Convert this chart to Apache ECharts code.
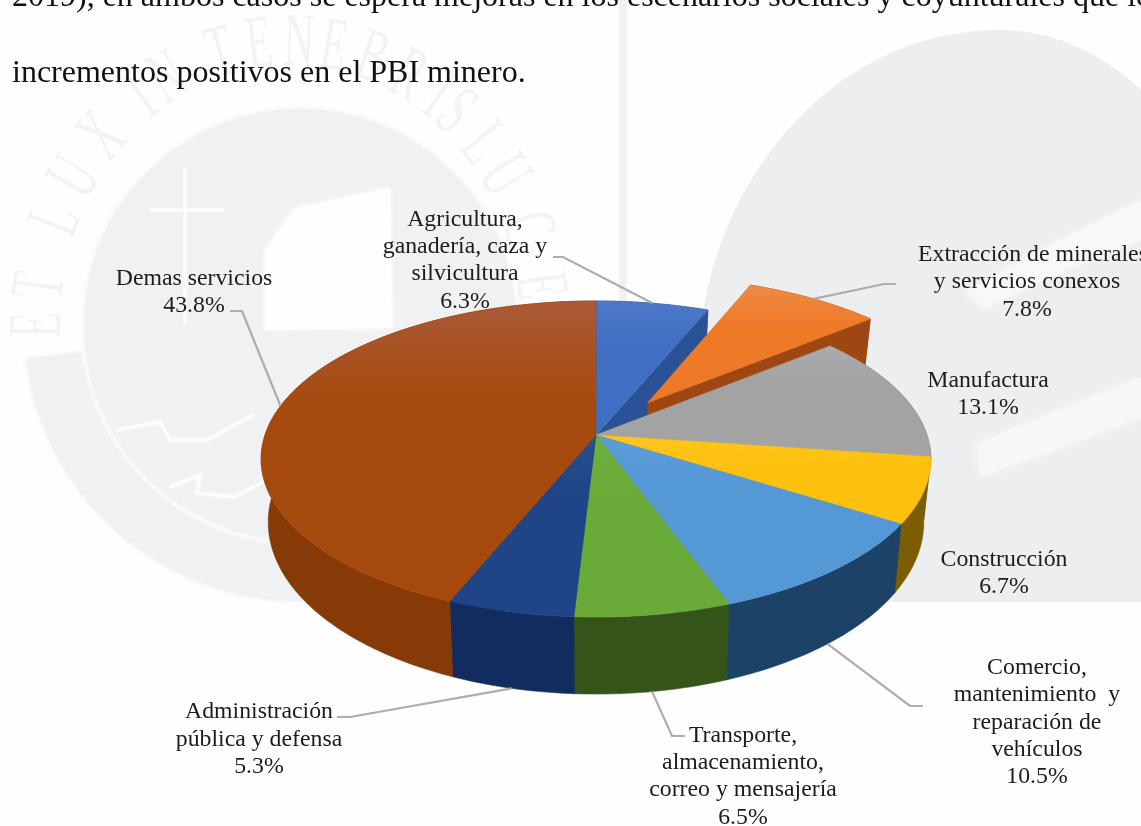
<!DOCTYPE html>
<html lang="es">
<head>
<meta charset="utf-8">
<title>Estructura del PBI por sectores</title>
<style>html,body{margin:0;padding:0;background:#fff;overflow:hidden}#chart{width:1141px;height:826px}</style>
<script src="https://cdn.jsdelivr.net/npm/echarts@6/dist/echarts.min.js"></script>
</head>
<body>
<div id="chart"></div>
<script>
// Sector shares of GDP, in percent, clockwise from twelve o'clock
const categories = [
  'Agricultura,\nganadería, caza y\nsilvicultura',
  '\u00a0\u00a0Extracción de minerales\ny servicios conexos',
  'Manufactura',
  'Construcción',
  'Comercio,\nmantenimiento  y\nreparación de\nvehículos',
  'Transporte,\nalmacenamiento,\ncorreo y mensajería',
  'Administración\npública y defensa',
  'Demas servicios'
];
const shares = [6.3, 7.8, 13.1, 6.7, 10.5, 6.5, 5.3, 43.8];
const pulledOut = [0, 0.27, 0, 0, 0, 0, 0, 0];

const faceColors = ['#3f6fc3', '#ee7a28', '#a3a3a3', '#fdc00c', '#5498d6', '#6aaa38', '#1f4487', '#a6490c'];
const faceHighlights = ['#4d78c6', '#ef8a45', '#ababab', '#ffc61e', '#5c9cd8', '#6fb03f', '#2a4f8e', '#aa5a38'];
const wallColors = ['#2c5296', '#9f4712', '#6e6e6e', '#7c5e00', '#1d4268', '#34541a', '#122c60', '#863a08'];

// Where each label block sits and the elbow of its leader line
const labelCenters = [[465, 260.5], [1027, 282], [988, 394.5], [1004, 573.5], [1037, 722.5], [743, 776.5], [259, 739.5], [194, 292]];
const leaderStarts = [[553, 257], [896, 284], null, null, [923, 706], [685, 736], [337, 717], [230, 311]];
const leaderElbows = [[563, 257], [884, 284], null, null, [910, 706], [672, 736], [350, 717], [242, 311]];

const paragraphLines = [
  '2019), en ambos casos se espera mejoras en los escenarios sociales y coyunturales que lo',
  'incrementos positivos en el PBI minero.'
];

// Perspective projection of the pie's unit disc on the page
const APEX_X = 596, TILT = 0.152;
const topRim = { rx: 331, ry: 154.4, cy: 435 };
const baseRim = { rx: 324, ry: 168, cy: 496 };

function project(rim, u, v) {
  const w = 1 - TILT * v;
  return [APEX_X + rim.rx * u / w, rim.cy + rim.ry * v / w];
}
function discPoint(deg, radius, shift, midDeg) {
  const a = deg * Math.PI / 180, m = midDeg * Math.PI / 180;
  return [radius * Math.sin(a) + shift * Math.sin(m), -radius * Math.cos(a) - shift * Math.cos(m)];
}
const total = shares.reduce((s, v) => s + v, 0);
function sliceAngles(i, value) {
  const before = shares.slice(0, i).reduce((s, v) => s + v, 0);
  const start = before / total * 360, end = (before + value) / total * 360;
  return { start, end, mid: (start + end) / 2 };
}
function arcPoints(rim, a, shift) {
  const pts = [], steps = Math.max(2, Math.ceil(a.end - a.start));
  for (let k = 0; k <= steps; k++) {
    const d = a.start + (a.end - a.start) * k / steps;
    pts.push(project(rim, ...discPoint(d, 1, shift, a.mid)));
  }
  return pts;
}

function renderWalls(params, api) {
  const i = params.dataIndex, a = sliceAngles(i, api.value(0)), shift = pulledOut[i];
  const topArc = arcPoints(topRim, a, shift), baseArc = arcPoints(baseRim, a, shift);
  const apexTop = project(topRim, ...discPoint(0, 0, shift, a.mid));
  const apexBase = project(baseRim, ...discPoint(0, 0, shift, a.mid));
  const z2 = shift ? 20 : 10;
  const style = { fill: wallColors[i], stroke: wallColors[i], lineWidth: 0.5 };
  const lastTop = topArc[topArc.length - 1], lastBase = baseArc[baseArc.length - 1];
  const children = [
    { type: 'polygon', z2, shape: { points: [apexTop, lastTop, lastBase, apexBase] }, style },
    { type: 'polygon', z2, shape: { points: topArc.concat(baseArc.slice().reverse()) }, style }
  ];
  return { type: 'group', children };
}

function renderFaces(params, api) {
  const i = params.dataIndex, a = sliceAngles(i, api.value(0)), shift = pulledOut[i];
  const apexTop = project(topRim, ...discPoint(0, 0, shift, a.mid));
  const arc = arcPoints(topRim, a, shift);
  const ys = arc.concat([apexTop]).map(p => p[1]);
  const y0 = Math.min(...ys), y1 = Math.max(...ys);
  return {
    type: 'polygon',
    shape: { points: [apexTop].concat(arc) },
    style: {
      fill: new echarts.graphic.LinearGradient(0, y0, 0, y1, [
        { offset: 0, color: faceHighlights[i] },
        { offset: 0.35, color: faceColors[i] },
        { offset: 1, color: faceColors[i] }
      ], true),
      stroke: faceColors[i],
      lineWidth: 0.6
    }
  };
}

function renderLabels(params, api) {
  const i = params.dataIndex, value = api.value(0), a = sliceAngles(i, value), shift = pulledOut[i];
  const children = [];
  if (leaderStarts[i]) {
    // The back half of the pie anchors on its top rim, the front half on its base rim
    const frontEdge = Math.cos(a.mid * Math.PI / 180) < -0.5;
    const anchor = project(frontEdge ? baseRim : topRim, ...discPoint(a.mid, 1, shift, a.mid));
    children.push({
      type: 'polyline',
      shape: { points: [leaderStarts[i], leaderElbows[i], anchor] },
      style: { stroke: '#adadad', lineWidth: 2.2, fill: null }
    });
  }
  children.push({
    type: 'text',
    style: {
      text: categories[i] + '\n' + value.toFixed(1) + '%',
      x: labelCenters[i][0], y: labelCenters[i][1],
      align: 'center', verticalAlign: 'middle',
      font: '23.8px "Liberation Serif"', lineHeight: 27.3, fill: '#1c1c1c'
    }
  });
  return { type: 'group', children };
}

// Faded university seal and arch printed behind the page content
const WM = '#f0f1f3', PALE = '#fcfdfd';
const soft = { shadowColor: WM, shadowBlur: 6 };
const sealLetters = [
  ['E', -90], ['T', -82], ['L', -68], ['U', -58.5], ['X', -48], ['I', -36], ['N', -29],
  ['T', -16], ['E', -7], ['N', 2], ['E', 10], ['B', 19], ['R', 28], ['I', 36], ['S', 41],
  ['L', 50], ['U', 58], ['C', 70], ['E', 82]
].map(([ch, deg]) => {
  const a = deg * Math.PI / 180;
  return {
    type: 'text', z: -8, scaleY: 1.8,
    x: 290 + 250 * Math.sin(a), y: 325 - 280 * Math.cos(a), rotation: -a,
    style: { text: ch, font: '42px "Liberation Serif"', fill: '#f2f3f5', align: 'center', verticalAlign: 'middle' }
  };
});
const paleLine = (points, lineWidth) => ({
  type: 'polyline', z: -8, shape: { points },
  style: { stroke: PALE, lineWidth, fill: null, shadowColor: PALE, shadowBlur: 3 }
});
// Samples a cubic curve so the arch outline can be a plain polygon
function curve(p0, p1, p2, p3) {
  const pts = [];
  for (let k = 0; k <= 24; k++) {
    const t = k / 24, s = 1 - t;
    pts.push([0, 1].map(d => s * s * s * p0[d] + 3 * s * s * t * p1[d] + 3 * s * t * t * p2[d] + t * t * t * p3[d]));
  }
  return pts;
}
const archOutline = [[700, 602]]
  .concat(curve([700, 340], [708, 200], [820, 30], [1000, 30]))
  .concat(curve([1000, 30], [1070, 30], [1120, 70], [1141, 90]))
  .concat([[1141, 602]]);
const watermark = [
  { type: 'sector', z: -10, shape: { cx: 300, cy: 325, r0: 221, r: 276, startAngle: 80 * Math.PI / 180, endAngle: 173 * Math.PI / 180, clockwise: true }, style: Object.assign({ fill: WM }, soft) },
  { type: 'circle', z: -10, shape: { cx: 300, cy: 325, r: 216 }, style: Object.assign({ fill: WM }, soft) },
  { type: 'polygon', z: -9, shape: { points: [[265, 330], [265, 250], [295, 208], [390, 188], [392, 328]] }, style: { fill: '#fdfefe', shadowColor: '#fdfefe', shadowBlur: 6 } },
  paleLine([[185, 167], [185, 323]], 2.5),
  paleLine([[150, 210], [225, 210]], 2.5),
  paleLine([[117, 430], [160, 422], [170, 440], [207, 440], [253, 415]], 3),
  paleLine([[170, 487], [200, 475], [197, 493], [233, 497], [267, 480]], 3),
  { type: 'rect', z: -10, shape: { x: 619, y: 0, width: 8, height: 310 }, style: { fill: '#f0f1f2' } },
  { type: 'polygon', z: -10, shape: { points: archOutline }, style: { fill: '#eceef0' } },
  { type: 'polygon', z: -9, shape: { points: [[965, 292], [1050, 245], [1141, 200], [1141, 240], [1060, 272], [985, 308]] }, style: { fill: '#f7f8f9', shadowColor: '#f7f8f9', shadowBlur: 8 } },
  { type: 'polygon', z: -9, shape: { points: [[978, 443], [1060, 410], [1141, 377], [1141, 417], [1060, 448], [980, 477]] }, style: { fill: '#f6f7f8', shadowColor: '#f6f7f8', shadowBlur: 8 } }
].concat(sealLetters);

const paragraph = paragraphLines.map((line, k) => ({
  type: 'text', z: 30,
  style: { text: line, x: 12, y: [-2, 74][k], font: '32px "Liberation Serif"', fill: '#111', verticalAlign: 'middle' }
}));

const chart = echarts.init(document.getElementById('chart'), null, { renderer: 'canvas' });
const sliceData = shares.map((v, i) => ({ name: categories[i].replace(/\n/g, ' ').trim(), value: [v] }));
const layer = (name, z, renderItem) => ({
  type: 'custom', name, coordinateSystem: 'none', z, silent: true,
  clip: false, renderItem, data: sliceData, animation: false
});
chart.setOption({
  backgroundColor: '#fefefe',
  animation: false,
  graphic: { elements: watermark.concat(paragraph) },
  series: [
    layer('Paredes', 2, renderWalls),
    layer('Sectores', 3, renderFaces),
    layer('Etiquetas', 4, renderLabels)
  ]
});
</script>
</body>
</html>
